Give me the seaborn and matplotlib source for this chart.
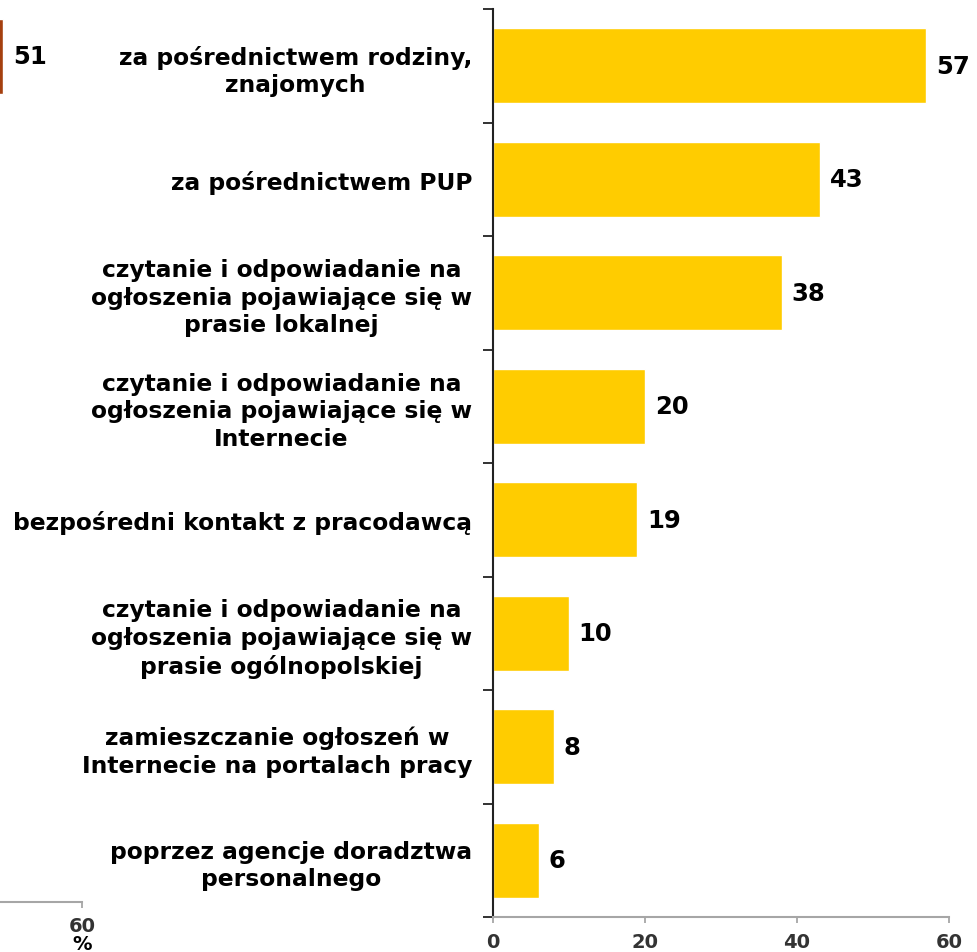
import matplotlib
matplotlib.use("Agg")
import matplotlib.pyplot as plt
import seaborn as sns
import pandas as pd

sns.set_style("white")
plt.rcParams['font.family'] = ['DejaVu Sans']

categories = [
    "za pośrednictwem rodziny,\nznajomych",
    "za pośrednictwem PUP",
    "czytanie i odpowiadanie na\nogłoszenia pojawiające się w\nprasie lokalnej",
    "czytanie i odpowiadanie na\nogłoszenia pojawiające się w\nInternecie",
    "bezpośredni kontakt z pracodawcą",
    "czytanie i odpowiadanie na\nogłoszenia pojawiające się w\nprasie ogólnopolskiej",
    "zamieszczanie ogłoszeń w\nInternecie na portalach pracy",
    "poprzez agencje doradztwa\npersonalnego",
]
values = [57, 43, 38, 20, 19, 10, 8, 6]
x_ticks = [0, 20, 40, 60]

# neighbouring panel (only its right edge is visible)
side_categories = ["a"]
side_values = [51]
side_ticks = [60]

W, H = 977, 953
fig = plt.figure(figsize=(W / 100, H / 100), dpi=100)

# ---- neighbouring panel fragment (drawn underneath, transparent) ----
left_px = 3 - 51 * (79 / 9)
ax2 = fig.add_axes([left_px / W, (H - 903) / H, (82 - left_px) / W, (903 - 1) / H])
ax2.patch.set_visible(False)
sdf = pd.DataFrame({"cat": side_categories, "val": side_values})
sns.barplot(data=sdf, y="cat", x="val", orient="h", color="#A5400F",
            saturation=1, width=0.66, ax=ax2)
ax2.set_xlim(0, 60)
ax2.set_ylim(7.5, -0.5)
ax2.set_ylabel("")
ax2.set_xlabel("")
ax2.set_yticks([])
ax2.set_xticks(side_ticks)
ax2.set_xticklabels([str(t) for t in side_ticks], fontsize=14,
                    fontweight="bold", color="#333333")
ax2.tick_params(axis="x", length=4, width=1.3, color="#A6A6A6",
                direction="out", bottom=True, pad=6)
ax2.text(1.0, (903 - 945) / 902, "%", transform=ax2.transAxes,
         ha="center", va="center", fontsize=14, fontweight="bold",
         color="black")
for s in ["top", "right", "left"]:
    ax2.spines[s].set_visible(False)
ax2.spines["bottom"].set_color("#A6A6A6")
ax2.spines["bottom"].set_linewidth(1.5)
for c in ax2.containers:
    ax2.bar_label(c, labels=[str(v) for v in side_values], padding=7,
                  fontsize=17.5, fontweight="bold", color="black")

# ---- main panel ----
ax = fig.add_axes([493 / W, (H - 918) / H, (949 - 493) / W, (918 - 10) / H])
ax.patch.set_visible(False)
df = pd.DataFrame({"cat": categories, "val": values})
sns.barplot(data=df, y="cat", x="val", orient="h", color="#FFCC00",
            saturation=1, width=0.66, ax=ax)
ax.set_xlim(0, 60)
ax.set_ylim(len(categories) - 0.5, -0.5)
ax.set_xlabel("")
ax.set_ylabel("")
ax.set_xticks(x_ticks)
ax.set_xticklabels([str(t) for t in x_ticks], fontsize=14, fontweight="bold",
                   color="#333333")
ax.set_yticks(range(len(categories)))
ax.set_yticklabels(categories, fontsize=16.8, fontweight="bold", color="black",
                   multialignment="center", linespacing=1.25)
ax.set_yticks([i - 0.5 for i in range(len(categories) + 1)], minor=True)
ax.tick_params(axis="y", which="major", length=0, pad=15)
ax.tick_params(axis="y", which="minor", length=7, width=1.3, color="#222222",
               direction="out", left=True)
ax.tick_params(axis="x", which="major", length=4, width=1.3, color="#A6A6A6",
               direction="out", bottom=True, pad=7)
for s in ["top", "right"]:
    ax.spines[s].set_visible(False)
ax.spines["left"].set_color("#222222")
ax.spines["left"].set_linewidth(1.5)
ax.spines["bottom"].set_color("#A6A6A6")
ax.spines["bottom"].set_linewidth(1.5)
for c in ax.containers:
    ax.bar_label(c, labels=[str(v) for v in values], padding=7,
                 fontsize=17.5, fontweight="bold", color="black")

fig.savefig("out.png", dpi=100)
